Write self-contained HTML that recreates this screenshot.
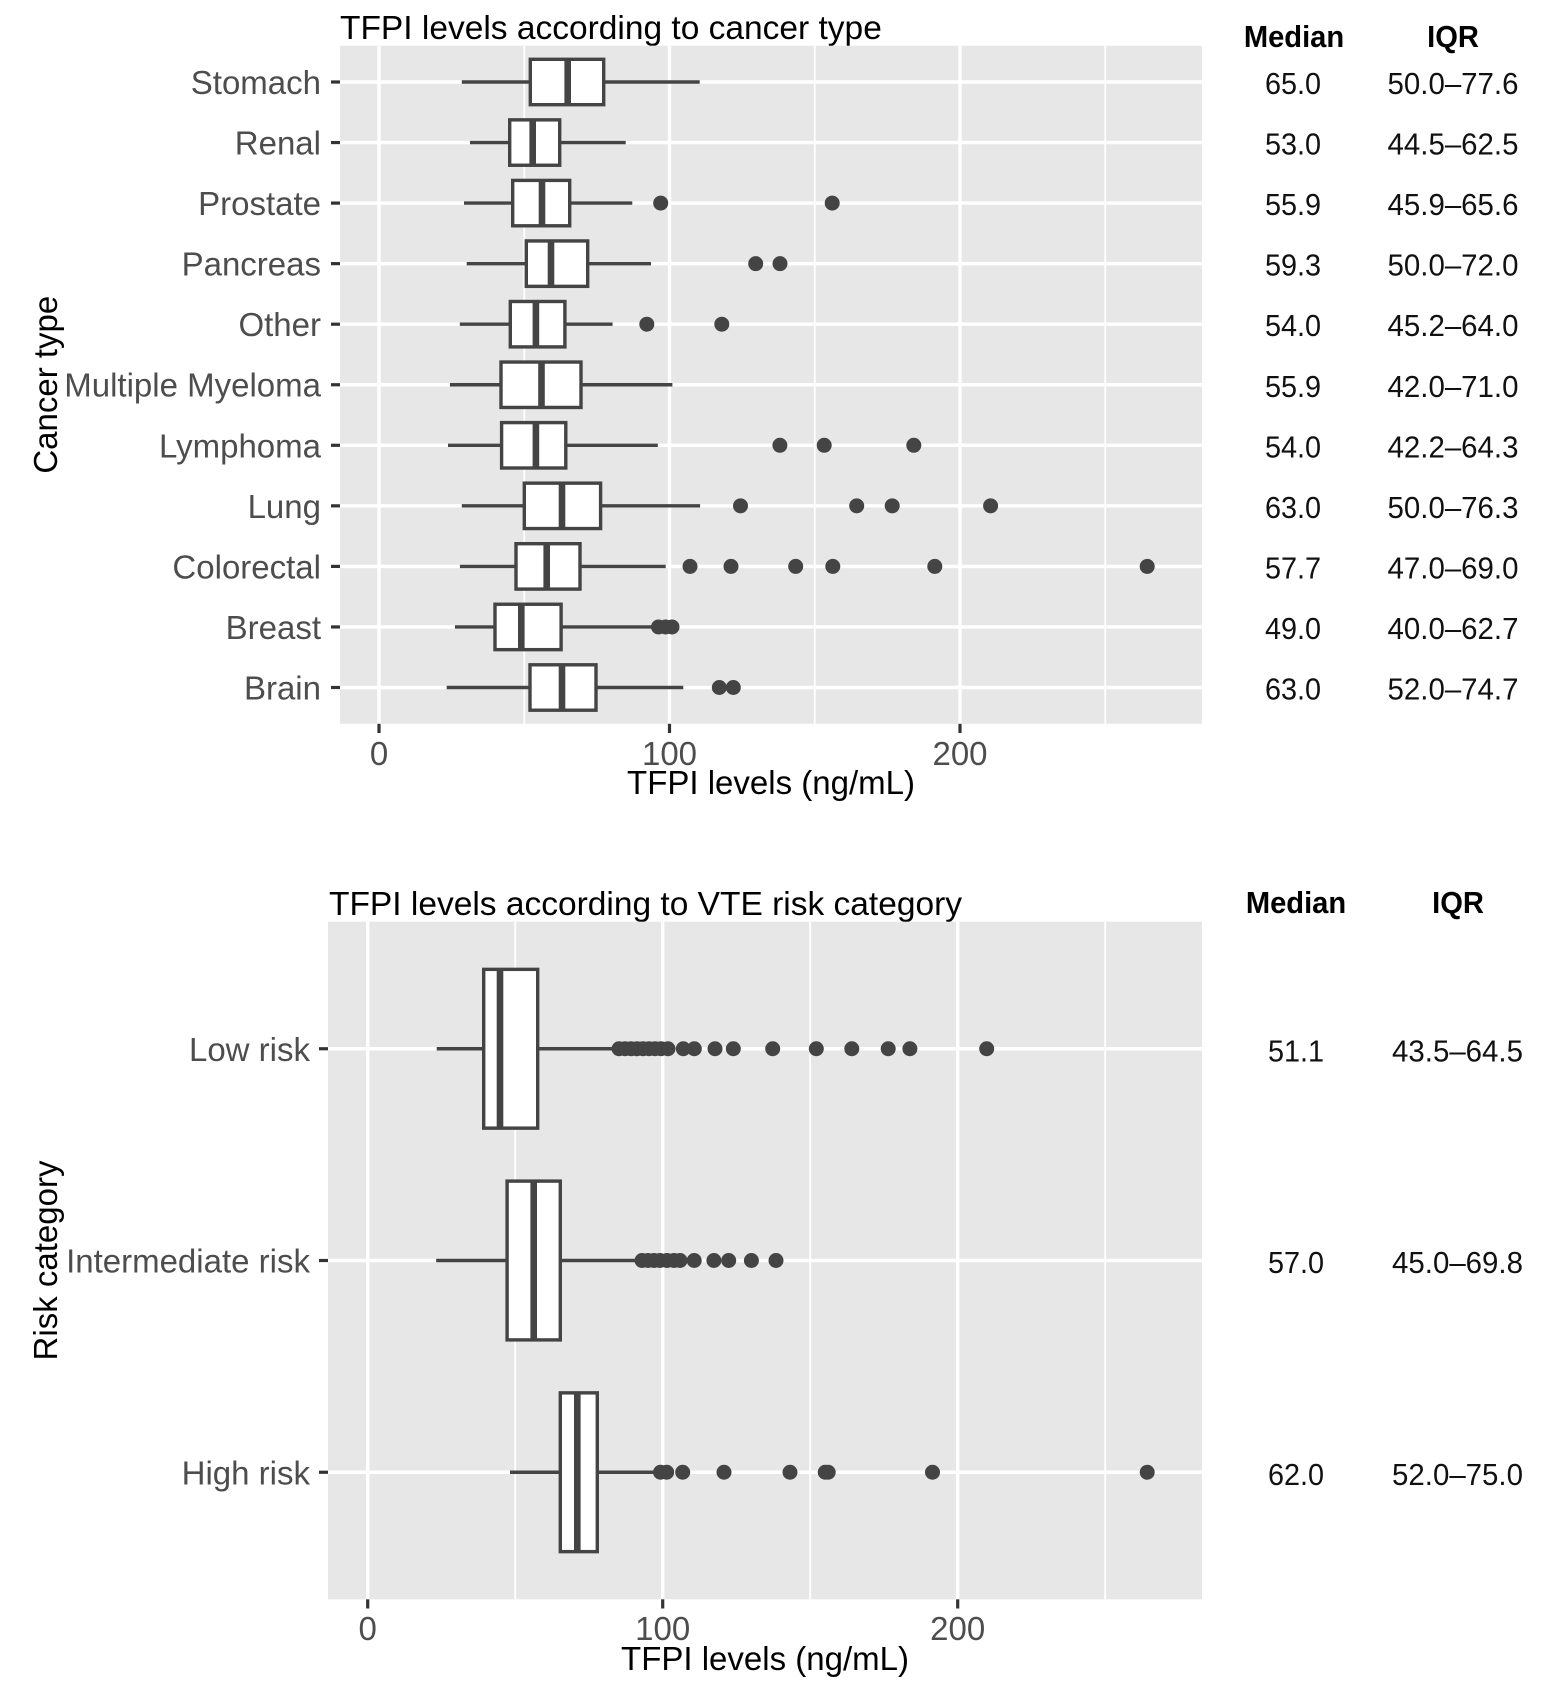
<!DOCTYPE html>
<html><head><meta charset="utf-8">
<style>
html,body{margin:0;padding:0;background:#fff;}
svg{display:block;font-family:"Liberation Sans",Arial,Helvetica,sans-serif;}
.tk{font-size:33px;fill:#4d4d4d;}
.ttl{font-size:33.5px;fill:#000;}
.ax{font-size:33px;fill:#000;}
.hd{font-size:31px;font-weight:bold;fill:#000;}
.vl{font-size:31px;fill:#111;}
.bx{fill:#fff;stroke:#444;stroke-width:3.4;}
.wk{stroke:#444;stroke-width:3.4;}
.md{stroke:#444;stroke-width:6.6;}
.pt circle{fill:#444;}
.gM{stroke:#fff;stroke-width:3.4;}
.gm{stroke:#fff;stroke-width:1.8;}
.tc{stroke:#333;stroke-width:3.2;}
</style></head>
<body>
<svg width="1542" height="1686" viewBox="0 0 1542 1686" xmlns="http://www.w3.org/2000/svg">
<rect x="0" y="0" width="1542" height="1686" fill="#fff"/>

<!-- ============ TOP PANEL ============ -->
<text class="ttl" x="340" y="39">TFPI levels according to cancer type</text>
<rect x="340" y="45.7" width="862" height="678.1" fill="#e7e7e7"/>
<g class="gm">
<line x1="524.25" y1="45.7" x2="524.25" y2="723.8"/>
<line x1="814.75" y1="45.7" x2="814.75" y2="723.8"/>
<line x1="1105.25" y1="45.7" x2="1105.25" y2="723.8"/>
</g>
<g class="gM">
<line x1="379" y1="45.7" x2="379" y2="723.8"/>
<line x1="669.5" y1="45.7" x2="669.5" y2="723.8"/>
<line x1="960" y1="45.7" x2="960" y2="723.8"/>
<line x1="340" y1="82" x2="1202" y2="82"/>
<line x1="340" y1="142.55" x2="1202" y2="142.55"/>
<line x1="340" y1="203.1" x2="1202" y2="203.1"/>
<line x1="340" y1="263.65" x2="1202" y2="263.65"/>
<line x1="340" y1="324.2" x2="1202" y2="324.2"/>
<line x1="340" y1="384.75" x2="1202" y2="384.75"/>
<line x1="340" y1="445.3" x2="1202" y2="445.3"/>
<line x1="340" y1="505.85" x2="1202" y2="505.85"/>
<line x1="340" y1="566.4" x2="1202" y2="566.4"/>
<line x1="340" y1="626.95" x2="1202" y2="626.95"/>
<line x1="340" y1="687.5" x2="1202" y2="687.5"/>
</g>

<!-- Stomach -->
<line class="wk" x1="461.8" y1="82" x2="699.7" y2="82"/>
<rect class="bx" x="530.3" y="59.3" width="73.4" height="45.4"/>
<line class="md" x1="567.7" y1="59.3" x2="567.7" y2="104.7"/>
<!-- Renal -->
<line class="wk" x1="470" y1="142.55" x2="625.7" y2="142.55"/>
<rect class="bx" x="509.7" y="119.85" width="50" height="45.4"/>
<line class="md" x1="532.7" y1="119.85" x2="532.7" y2="165.25"/>
<!-- Prostate -->
<line class="wk" x1="464" y1="203.1" x2="632.3" y2="203.1"/>
<rect class="bx" x="512.7" y="180.4" width="57" height="45.4"/>
<line class="md" x1="542" y1="180.4" x2="542" y2="225.8"/>
<g class="pt"><circle cx="660.7" cy="203.1" r="7.5"/><circle cx="832.2" cy="203.1" r="7.5"/></g>
<!-- Pancreas -->
<line class="wk" x1="466.7" y1="263.65" x2="651" y2="263.65"/>
<rect class="bx" x="526.3" y="240.95" width="61.4" height="45.4"/>
<line class="md" x1="551" y1="240.95" x2="551" y2="286.35"/>
<g class="pt"><circle cx="755.7" cy="263.65" r="7.5"/><circle cx="780" cy="263.65" r="7.5"/></g>
<!-- Other -->
<line class="wk" x1="459.8" y1="324.2" x2="612.6" y2="324.2"/>
<rect class="bx" x="510.3" y="301.5" width="54.6" height="45.4"/>
<line class="md" x1="535.9" y1="301.5" x2="535.9" y2="346.9"/>
<g class="pt"><circle cx="646.8" cy="324.2" r="7.5"/><circle cx="721.8" cy="324.2" r="7.5"/></g>
<!-- Multiple Myeloma -->
<line class="wk" x1="449.9" y1="384.75" x2="672.4" y2="384.75"/>
<rect class="bx" x="501" y="362.05" width="80" height="45.4"/>
<line class="md" x1="541.5" y1="362.05" x2="541.5" y2="407.45"/>
<!-- Lymphoma -->
<line class="wk" x1="448" y1="445.3" x2="657.8" y2="445.3"/>
<rect class="bx" x="501.6" y="422.6" width="64.2" height="45.4"/>
<line class="md" x1="535.9" y1="422.6" x2="535.9" y2="468"/>
<g class="pt"><circle cx="779.9" cy="445.3" r="7.5"/><circle cx="824.2" cy="445.3" r="7.5"/><circle cx="913.8" cy="445.3" r="7.5"/></g>
<!-- Lung -->
<line class="wk" x1="461.8" y1="505.85" x2="700.1" y2="505.85"/>
<rect class="bx" x="524.3" y="483.15" width="76.3" height="45.4"/>
<line class="md" x1="562" y1="483.15" x2="562" y2="528.55"/>
<g class="pt"><circle cx="740.5" cy="505.85" r="7.5"/><circle cx="856.7" cy="505.85" r="7.5"/><circle cx="892.2" cy="505.85" r="7.5"/><circle cx="990.6" cy="505.85" r="7.5"/></g>
<!-- Colorectal -->
<line class="wk" x1="459.9" y1="566.4" x2="665.7" y2="566.4"/>
<rect class="bx" x="516" y="543.7" width="64" height="45.4"/>
<line class="md" x1="546.7" y1="543.7" x2="546.7" y2="589.1"/>
<g class="pt"><circle cx="690" cy="566.4" r="7.5"/><circle cx="731" cy="566.4" r="7.5"/><circle cx="795.7" cy="566.4" r="7.5"/><circle cx="832.8" cy="566.4" r="7.5"/><circle cx="934.8" cy="566.4" r="7.5"/><circle cx="1147.2" cy="566.4" r="7.5"/></g>
<!-- Breast -->
<line class="wk" x1="455" y1="626.95" x2="653.3" y2="626.95"/>
<rect class="bx" x="495" y="604.25" width="66.1" height="45.4"/>
<line class="md" x1="521.3" y1="604.25" x2="521.3" y2="649.65"/>
<g class="pt"><circle cx="658.5" cy="626.95" r="7.5"/><circle cx="665.5" cy="626.95" r="7.5"/><circle cx="672" cy="626.95" r="7.5"/></g>
<!-- Brain -->
<line class="wk" x1="446.7" y1="687.5" x2="683.3" y2="687.5"/>
<rect class="bx" x="530" y="664.8" width="66" height="45.4"/>
<line class="md" x1="562" y1="664.8" x2="562" y2="710.2"/>
<g class="pt"><circle cx="719.3" cy="687.5" r="7.5"/><circle cx="733.3" cy="687.5" r="7.5"/></g>

<!-- top ticks -->
<g class="tc">
<line x1="331" y1="82" x2="340" y2="82"/>
<line x1="331" y1="142.55" x2="340" y2="142.55"/>
<line x1="331" y1="203.1" x2="340" y2="203.1"/>
<line x1="331" y1="263.65" x2="340" y2="263.65"/>
<line x1="331" y1="324.2" x2="340" y2="324.2"/>
<line x1="331" y1="384.75" x2="340" y2="384.75"/>
<line x1="331" y1="445.3" x2="340" y2="445.3"/>
<line x1="331" y1="505.85" x2="340" y2="505.85"/>
<line x1="331" y1="566.4" x2="340" y2="566.4"/>
<line x1="331" y1="626.95" x2="340" y2="626.95"/>
<line x1="331" y1="687.5" x2="340" y2="687.5"/>
<line x1="379" y1="723.8" x2="379" y2="733"/>
<line x1="669.5" y1="723.8" x2="669.5" y2="733"/>
<line x1="960" y1="723.8" x2="960" y2="733"/>
</g>
<g class="tk" text-anchor="end">
<text x="321" y="94">Stomach</text>
<text x="321" y="154.5">Renal</text>
<text x="321" y="215">Prostate</text>
<text x="321" y="275.6">Pancreas</text>
<text x="321" y="336.2">Other</text>
<text x="321" y="396.7">Multiple Myeloma</text>
<text x="321" y="457.3">Lymphoma</text>
<text x="321" y="517.8">Lung</text>
<text x="321" y="578.4">Colorectal</text>
<text x="321" y="638.9">Breast</text>
<text x="321" y="699.5">Brain</text>
</g>
<g class="tk" text-anchor="middle">
<text x="379" y="765">0</text>
<text x="669.5" y="765">100</text>
<text x="960" y="765">200</text>
</g>
<text class="ax" x="771" y="794" text-anchor="middle">TFPI levels (ng/mL)</text>
<text class="ax" transform="translate(57,384.7) rotate(-90)" text-anchor="middle">Cancer type</text>

<!-- top table -->
<g transform="translate(1294,47) scale(0.94,1)"><text class="hd" text-anchor="middle">Median</text></g>
<g transform="translate(1453,47) scale(0.94,1)"><text class="hd" text-anchor="middle">IQR</text></g>
<g class="vl" text-anchor="middle">
<g transform="translate(1293,94) scale(0.93,1)"><text>65.0</text></g>
<g transform="translate(1453,94) scale(0.95,1)"><text>50.0–77.6</text></g>
<g transform="translate(1293,154.55) scale(0.93,1)"><text>53.0</text></g>
<g transform="translate(1453,154.55) scale(0.95,1)"><text>44.5–62.5</text></g>
<g transform="translate(1293,215.1) scale(0.93,1)"><text>55.9</text></g>
<g transform="translate(1453,215.1) scale(0.95,1)"><text>45.9–65.6</text></g>
<g transform="translate(1293,275.65) scale(0.93,1)"><text>59.3</text></g>
<g transform="translate(1453,275.65) scale(0.95,1)"><text>50.0–72.0</text></g>
<g transform="translate(1293,336.2) scale(0.93,1)"><text>54.0</text></g>
<g transform="translate(1453,336.2) scale(0.95,1)"><text>45.2–64.0</text></g>
<g transform="translate(1293,396.75) scale(0.93,1)"><text>55.9</text></g>
<g transform="translate(1453,396.75) scale(0.95,1)"><text>42.0–71.0</text></g>
<g transform="translate(1293,457.3) scale(0.93,1)"><text>54.0</text></g>
<g transform="translate(1453,457.3) scale(0.95,1)"><text>42.2–64.3</text></g>
<g transform="translate(1293,517.85) scale(0.93,1)"><text>63.0</text></g>
<g transform="translate(1453,517.85) scale(0.95,1)"><text>50.0–76.3</text></g>
<g transform="translate(1293,578.4) scale(0.93,1)"><text>57.7</text></g>
<g transform="translate(1453,578.4) scale(0.95,1)"><text>47.0–69.0</text></g>
<g transform="translate(1293,638.95) scale(0.93,1)"><text>49.0</text></g>
<g transform="translate(1453,638.95) scale(0.95,1)"><text>40.0–62.7</text></g>
<g transform="translate(1293,699.5) scale(0.93,1)"><text>63.0</text></g>
<g transform="translate(1453,699.5) scale(0.95,1)"><text>52.0–74.7</text></g>
</g>

<!-- ============ BOTTOM PANEL ============ -->
<text class="ttl" x="329" y="915">TFPI levels according to VTE risk category</text>
<rect x="328" y="921.7" width="874" height="677.6" fill="#e7e7e7"/>
<g class="gm">
<line x1="515.2" y1="921.7" x2="515.2" y2="1599.3"/>
<line x1="810.2" y1="921.7" x2="810.2" y2="1599.3"/>
<line x1="1105.2" y1="921.7" x2="1105.2" y2="1599.3"/>
</g>
<g class="gM">
<line x1="367.7" y1="921.7" x2="367.7" y2="1599.3"/>
<line x1="662.7" y1="921.7" x2="662.7" y2="1599.3"/>
<line x1="957.7" y1="921.7" x2="957.7" y2="1599.3"/>
<line x1="328" y1="1048.75" x2="1202" y2="1048.75"/>
<line x1="328" y1="1260.5" x2="1202" y2="1260.5"/>
<line x1="328" y1="1472.25" x2="1202" y2="1472.25"/>
</g>

<!-- Low risk -->
<line class="wk" x1="436.7" y1="1048.75" x2="613.3" y2="1048.75"/>
<rect class="bx" x="483.7" y="969.35" width="54" height="158.8"/>
<line class="md" x1="500" y1="969.35" x2="500" y2="1128.15"/>
<g class="pt">
<circle cx="619" cy="1048.75" r="7.5"/><circle cx="625" cy="1048.75" r="7.5"/><circle cx="631" cy="1048.75" r="7.5"/><circle cx="637" cy="1048.75" r="7.5"/><circle cx="643" cy="1048.75" r="7.5"/><circle cx="649" cy="1048.75" r="7.5"/><circle cx="655" cy="1048.75" r="7.5"/><circle cx="661" cy="1048.75" r="7.5"/><circle cx="668" cy="1048.75" r="7.5"/><circle cx="683.3" cy="1048.75" r="7.5"/><circle cx="694.3" cy="1048.75" r="7.5"/><circle cx="715" cy="1048.75" r="7.5"/><circle cx="733.3" cy="1048.75" r="7.5"/><circle cx="772.7" cy="1048.75" r="7.5"/><circle cx="816.3" cy="1048.75" r="7.5"/><circle cx="851.8" cy="1048.75" r="7.5"/><circle cx="888.2" cy="1048.75" r="7.5"/><circle cx="909.9" cy="1048.75" r="7.5"/><circle cx="986.7" cy="1048.75" r="7.5"/>
</g>
<!-- Intermediate risk -->
<line class="wk" x1="436.2" y1="1260.5" x2="638" y2="1260.5"/>
<rect class="bx" x="507.1" y="1181.1" width="53.2" height="158.8"/>
<line class="md" x1="533.7" y1="1181.1" x2="533.7" y2="1339.9"/>
<g class="pt">
<circle cx="642" cy="1260.5" r="7.5"/><circle cx="648" cy="1260.5" r="7.5"/><circle cx="654" cy="1260.5" r="7.5"/><circle cx="660" cy="1260.5" r="7.5"/><circle cx="667" cy="1260.5" r="7.5"/><circle cx="674" cy="1260.5" r="7.5"/><circle cx="680" cy="1260.5" r="7.5"/><circle cx="694.2" cy="1260.5" r="7.5"/><circle cx="713.9" cy="1260.5" r="7.5"/><circle cx="728.7" cy="1260.5" r="7.5"/><circle cx="751.4" cy="1260.5" r="7.5"/><circle cx="776" cy="1260.5" r="7.5"/>
</g>
<!-- High risk -->
<line class="wk" x1="510" y1="1472.25" x2="655" y2="1472.25"/>
<rect class="bx" x="560.3" y="1392.85" width="37" height="158.8"/>
<line class="md" x1="577.3" y1="1392.85" x2="577.3" y2="1551.65"/>
<g class="pt">
<circle cx="660.5" cy="1472.25" r="7.5"/><circle cx="666.7" cy="1472.25" r="7.5"/><circle cx="682.7" cy="1472.25" r="7.5"/><circle cx="724" cy="1472.25" r="7.5"/><circle cx="790" cy="1472.25" r="7.5"/><circle cx="825.2" cy="1472.25" r="7.5"/><circle cx="828.2" cy="1472.25" r="7.5"/><circle cx="932.5" cy="1472.25" r="7.5"/><circle cx="1147.2" cy="1472.25" r="7.5"/>
</g>

<!-- bottom ticks -->
<g class="tc">
<line x1="319" y1="1048.75" x2="328" y2="1048.75"/>
<line x1="319" y1="1260.5" x2="328" y2="1260.5"/>
<line x1="319" y1="1472.25" x2="328" y2="1472.25"/>
<line x1="367.7" y1="1599.3" x2="367.7" y2="1608.5"/>
<line x1="662.7" y1="1599.3" x2="662.7" y2="1608.5"/>
<line x1="957.7" y1="1599.3" x2="957.7" y2="1608.5"/>
</g>
<g class="tk" text-anchor="end">
<text x="310" y="1060.75">Low risk</text>
<text x="310" y="1272.5">Intermediate risk</text>
<text x="310" y="1484.25">High risk</text>
</g>
<g class="tk" text-anchor="middle">
<text x="367.7" y="1640">0</text>
<text x="662.7" y="1640">100</text>
<text x="957.7" y="1640">200</text>
</g>
<text class="ax" x="765" y="1670" text-anchor="middle">TFPI levels (ng/mL)</text>
<text class="ax" transform="translate(57,1260.5) rotate(-90)" text-anchor="middle">Risk category</text>

<!-- bottom table -->
<g transform="translate(1296,913) scale(0.94,1)"><text class="hd" text-anchor="middle">Median</text></g>
<g transform="translate(1458,913) scale(0.94,1)"><text class="hd" text-anchor="middle">IQR</text></g>
<g class="vl" text-anchor="middle">
<g transform="translate(1296,1061.5) scale(0.93,1)"><text>51.1</text></g>
<g transform="translate(1457.5,1061.5) scale(0.95,1)"><text>43.5–64.5</text></g>
<g transform="translate(1296,1273.2) scale(0.93,1)"><text>57.0</text></g>
<g transform="translate(1457.5,1273.2) scale(0.95,1)"><text>45.0–69.8</text></g>
<g transform="translate(1296,1485) scale(0.93,1)"><text>62.0</text></g>
<g transform="translate(1457.5,1485) scale(0.95,1)"><text>52.0–75.0</text></g>
</g>
</svg>
</body></html>
